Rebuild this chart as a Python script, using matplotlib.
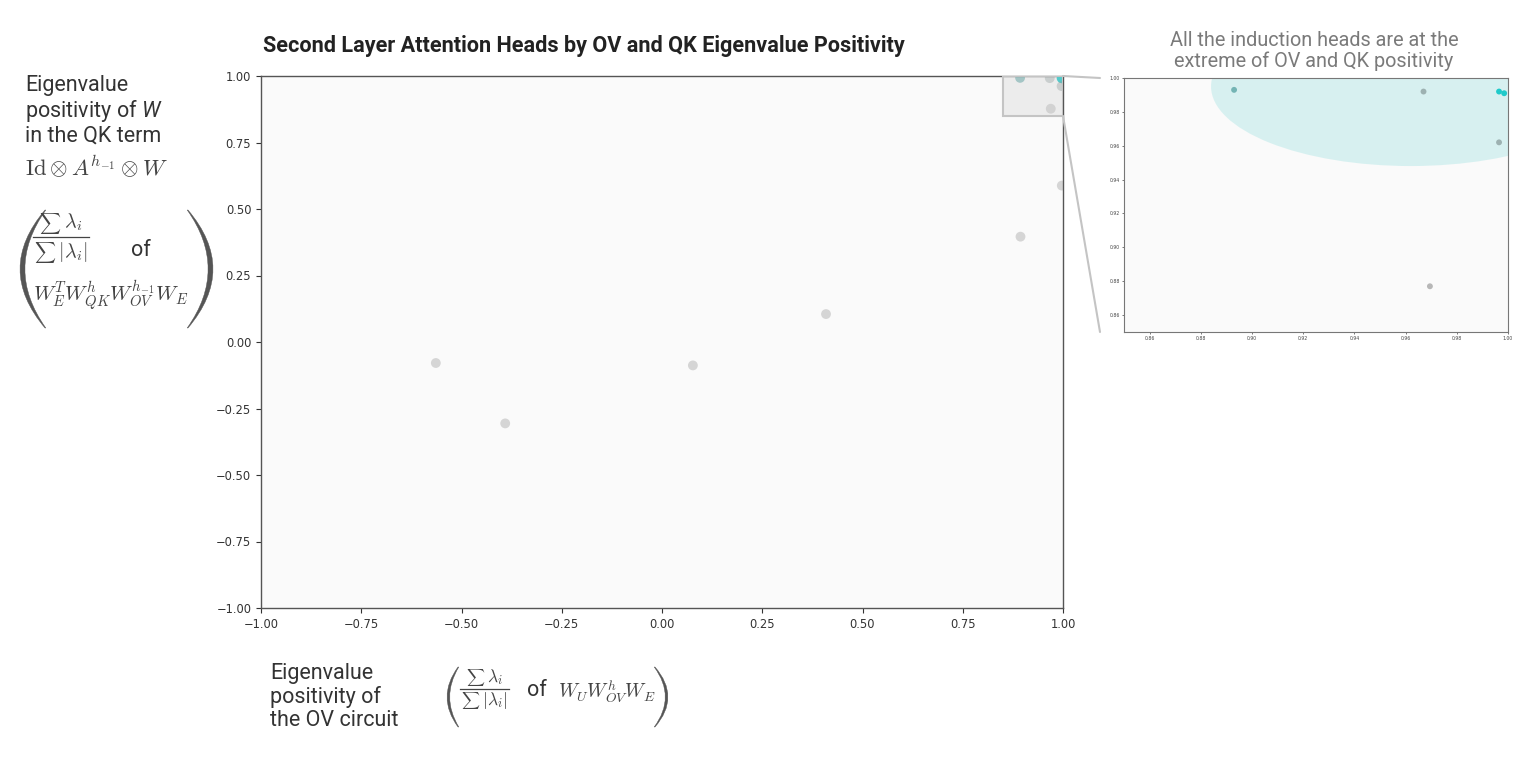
import numpy as np
import matplotlib
matplotlib.use("Agg")
import matplotlib.pyplot as plt
from matplotlib.patches import Rectangle, Ellipse, PathPatch, ConnectionPatch
from matplotlib.path import Path
from matplotlib.lines import Line2D
from matplotlib.colors import to_rgb

# ---------------- data ----------------
head_names = ["h0", "h1", "h2", "h3", "h4", "h5", "h6", "h7", "h8", "h9", "h10", "h11"]
ov_positivity = [-0.564, -0.391, 0.077, 0.409, 0.894, 0.997, 0.893, 0.967, 0.9965, 0.9985, 0.9965, 0.9695]
qk_positivity = [-0.079, -0.306, -0.088, 0.105, 0.396, 0.588, 0.993, 0.992, 0.992, 0.991, 0.962, 0.877]
induction_score = [0.0, 0.0, 0.0, 0.0, 0.0, 0.0, 0.45, 0.1, 1.0, 1.0, 0.1, 0.0]

main_ticks = [-1.0, -0.75, -0.5, -0.25, 0.0, 0.25, 0.5, 0.75, 1.0]
zoom_ticks = [0.86, 0.88, 0.90, 0.92, 0.94, 0.96, 0.98, 1.00]
zoom_range = (0.85, 1.0)
ellipse_center = (0.962, 0.995)
ellipse_size = (0.156, 0.094)

title = "Second Layer Attention Heads by OV and QK Eigenvalue Positivity"
note = "All the induction heads are at the\nextreme of OV and QK positivity"

GRAY = np.array(to_rgb("#808080"))
TEAL = np.array(to_rgb("#1fcaca"))


def colors_for(scores, base_alpha):
    out = []
    for s in scores:
        c = (1 - s) * GRAY + s * TEAL
        a = base_alpha + (1 - base_alpha) * s
        out.append((c[0], c[1], c[2], a))
    return out


plt.rcParams["mathtext.fontset"] = "custom"
plt.rcParams["mathtext.it"] = "Roboto:italic"
plt.rcParams["mathtext.rm"] = "Roboto"

W, H = 1537, 773
fig = plt.figure(figsize=(W / 100, H / 100), dpi=100)
fig.patch.set_facecolor("white")
renderer = fig.canvas.get_renderer()


def fx(px):
    return px / W


def fy(py):
    return 1 - py / H


# ---------------- main axes ----------------
ax = fig.add_axes([fx(261), fy(608), fx(1063) - fx(261), fy(76) - fy(608)])
ax.set_facecolor("#fafafa")
ax.scatter(ov_positivity, qk_positivity, s=50, c=colors_for(induction_score, 0.3),
           linewidths=0, zorder=3)
ax.set_xlim(-1, 1)
ax.set_ylim(-1, 1)
ax.set_xticks(main_ticks)
ax.set_yticks(main_ticks)
ax.tick_params(labelsize=8.3, colors="#333333", length=3.5, width=0.8)
for sp in ax.spines.values():
    sp.set_color("#555555")
    sp.set_linewidth(1.0)
ax.add_patch(Rectangle((zoom_range[0], zoom_range[0]), zoom_range[1] - zoom_range[0],
                       zoom_range[1] - zoom_range[0], facecolor=(0.8, 0.8, 0.8, 0.3),
                       edgecolor="#c4c4c4", linewidth=1.5, zorder=4))

# ---------------- zoom axes ----------------
ax2 = fig.add_axes([fx(1124), fy(332), fx(1508) - fx(1124), fy(78) - fy(332)])
ax2.set_facecolor("#fafafa")
ax2.add_patch(Ellipse(ellipse_center, ellipse_size[0], ellipse_size[1],
                      facecolor="#2ec4c4", alpha=0.17, linewidth=0, zorder=1))
ax2.scatter(ov_positivity, qk_positivity, s=18, c=colors_for(induction_score, 0.55),
            linewidths=0, zorder=3)
ax2.set_xlim(*zoom_range)
ax2.set_ylim(*zoom_range)
ax2.set_xticks(zoom_ticks)
ax2.set_yticks(zoom_ticks)
ax2.tick_params(labelsize=3.3, colors="#444444", length=1.5, width=0.5, pad=1.5)
for sp in ax2.spines.values():
    sp.set_color("#777777")
    sp.set_linewidth(0.8)

# connector lines
for ya, yb in [(zoom_range[1], 1.0), (zoom_range[0], 0.0)]:
    con = ConnectionPatch(xyA=(1.0, ya), coordsA=ax.transData,
                          xyB=(-0.0625, yb), coordsB=ax2.transAxes,
                          color="#c4c4c4", linewidth=1.5)
    fig.add_artist(con)

# ---------------- texts ----------------
fig.text(fx(263), fy(46), title, fontfamily="Roboto", fontweight="bold", fontsize=15.6,
         color="#222222", ha="left", va="center")
fig.text(fx(1314), fy(51), note, fontfamily="Roboto", fontsize=14.3,
         color="#7a7a7a", ha="center", va="center", linespacing=1.12)

TXT = "#333333"
MATH = "#444444"


def width_of(t):
    return t.get_window_extent(renderer).width


def hrow(pieces, x, y_base, draw=True):
    """Place pieces (string, fontsize) left to right on a baseline (pixels). Returns width."""
    cur = x
    arts = []
    for s, size in pieces:
        t = fig.text(fx(cur), fy(y_base), s, math_fontfamily="cm", fontsize=size, color=MATH,
                     ha="left", va="baseline")
        w = width_of(t)
        cur += w
        arts.append(t)
    if not draw:
        for t in arts:
            t.remove()
    return cur - x


def fraction(x_left, y_bar, lam_size, sum_size, gap_num, gap_den, pad=1):
    num = [(r"$\sum$", sum_size), (r"$\,\lambda_i$", lam_size)]
    den = [(r"$\sum$", sum_size), (r"$\,|\lambda_i|$", lam_size)]
    wn = hrow(num, 0, 0, draw=False)
    wd = hrow(den, 0, 0, draw=False)
    wbar = max(wn, wd) + 2 * pad
    hrow(num, x_left + (wbar - wn) / 2, y_bar - gap_num)
    hrow(den, x_left + (wbar - wd) / 2, y_bar + gap_den)
    fig.add_artist(Line2D([fx(x_left), fx(x_left + wbar)], [fy(y_bar), fy(y_bar)],
                          color=MATH, linewidth=0.9, transform=fig.transFigure))


fig.text(fx(25), fy(110.5), "Eigenvalue\npositivity of $W$\nin the QK term", fontfamily="Roboto",
         fontsize=15.5, color=TXT, ha="left", va="center", linespacing=1.1)
fig.text(fx(25), fy(168), r"$\mathrm{Id}\otimes A^{h_{-1}}\otimes W$", math_fontfamily="cm",
         fontsize=16.3, color=MATH, ha="left", va="center")
fraction(33, 237, 14.5, 10.5, 9, 20)
fig.text(fx(131), fy(250), "of", fontfamily="Roboto", fontsize=15.5, color=TXT, ha="left", va="center")
fig.text(fx(33), fy(296), r"$W_E^T W_{QK}^h W_{OV}^{h_{-1}} W_E$", math_fontfamily="cm",
         fontsize=15, color=MATH, ha="left", va="center")

fig.text(fx(270), fy(697), "Eigenvalue\npositivity of\nthe OV circuit", fontfamily="Roboto",
         fontsize=15.5, color=TXT, ha="left", va="center", linespacing=1.1)
fraction(460, 689, 12.5, 9, 7, 16)
fig.text(fx(527), fy(690), "of", fontfamily="Roboto", fontsize=15.5, color=TXT, ha="left", va="center")
fig.text(fx(558), fy(692), r"$W_U W_{OV}^h W_E$", math_fontfamily="cm",
         fontsize=14, color=MATH, ha="left", va="center")


def paren(x_tip, x_out, y_top, y_bot, thick, color="#555555"):
    # crescent shaped bracket, coordinates in pixels (y downward)
    ym = (y_top + y_bot) / 2
    sgn = 1 if x_out < x_tip else -1
    c_out = 2 * x_out - x_tip
    c_in = 2 * (x_out + sgn * thick) - x_tip
    verts = [(x_tip, y_top), (c_out, ym), (x_tip, y_bot),
             (x_tip + sgn * 0.8, y_bot), (c_in, ym), (x_tip + sgn * 0.8, y_top), (x_tip, y_top)]
    verts = [(fx(x), fy(y)) for x, y in verts]
    codes = [Path.MOVETO, Path.CURVE3, Path.CURVE3, Path.LINETO, Path.CURVE3, Path.CURVE3,
             Path.CLOSEPOLY]
    fig.add_artist(PathPatch(Path(verts, codes), facecolor=color, edgecolor=color,
                             linewidth=0.3, transform=fig.transFigure))


paren(45, 20, 210, 328, 4.5)
paren(188, 213, 210, 328, 4.5)
paren(458, 447, 667, 727, 2.3)
paren(655, 668, 667, 727, 2.3)

fig.savefig("out.png", dpi=100)
